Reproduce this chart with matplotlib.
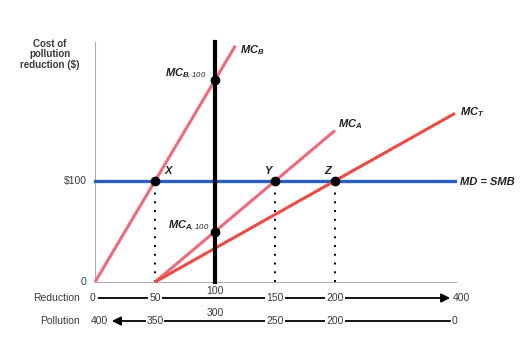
import matplotlib.pyplot as plt

plt.rcParams['font.family'] = ['Liberation Sans', 'DejaVu Sans']
plt.rcParams['mathtext.fontset'] = 'custom'
plt.rcParams['mathtext.it'] = 'Liberation Sans:italic:bold'
plt.rcParams['mathtext.rm'] = 'Liberation Sans:italic'

# Data: marginal cost curves (reduction units, $)
mcb_q = [0, 117]
mcb_cost = [0, 234]
mca_q = [50, 200]
mca_cost = [0, 150]
mct_q = [50, 300]
mct_cost = [0, 167]
md_q = [0, 300]
md_cost = [100, 100]

# equilibrium points
pt_names = ['X', 'Y', 'Z']
pt_q = [50, 150, 200]
pt_cost = [100, 100, 100]
q_fixed = 100
mcb_100 = 200
mca_100 = 50

# bottom scales (positions in reduction units, 400 drawn at the end of the axis)
scale_pos = [0, 50, 100, 150, 200, 300]
reduction_labels = ['0', '50', '100', '150', '200', '400']
pollution_labels = ['400', '350', '300', '250', '200', '0']

pink = '#f2697c'
red = '#ee4a42'
blue = '#2b5fbe'
gray_txt = '#3a3a3a'

fig = plt.figure(figsize=(5.30, 3.51), dpi=100)
ax = fig.add_axes([0, 0, 1, 1])
ax.set_xlim(-79.17, 362.5)
ax.set_ylim(-68.3, 279.2)
ax.axis('off')

top = 237.6
# axes lines
ax.plot([0, 0], [0, top], color='#b0b0b0', lw=0.8)
ax.plot([0, 301], [0, 0], color='#b0b0b0', lw=0.8)
ax.text(-7, 100, '$100', ha='right', va='center', fontsize=7.5, color=gray_txt)
ax.text(-7, 0, '0', ha='right', va='center', fontsize=7.5, color=gray_txt)
ax.text(-37.5, 241, 'Cost of\npollution\nreduction ($)', ha='center', va='top',
        fontsize=7, fontweight='bold', color=gray_txt, linespacing=1.1)

# dotted guides
for q in pt_q:
    ax.plot([q, q], [0, 100], color='black', lw=1.4, ls=(0, (1, 3.5)))

ax.plot(md_q, md_cost, color=blue, lw=2.4, zorder=3)
ax.plot([q_fixed, q_fixed], [0, top], color='black', lw=3, zorder=4)
ax.plot(mcb_q, mcb_cost, color=pink, lw=2.2, zorder=3, solid_capstyle='butt')
ax.plot(mca_q, mca_cost, color=pink, lw=2.2, zorder=3, solid_capstyle='butt')
ax.plot(mct_q, mct_cost, color=red, lw=2.2, zorder=3, solid_capstyle='butt')

ax.plot(pt_q + [q_fixed, q_fixed], pt_cost + [mcb_100, mca_100], 'o',
        color='black', ms=6, zorder=6)

lab = dict(fontsize=8, fontweight='bold', fontstyle='italic', color='#222222')
ax.text(120.8, 230, r'$MC_B$', ha='left', va='center', **lab)
ax.text(93, 206, r'$MC_{B,100}$', ha='right', va='center', **lab)
ax.text(202.5, 156, r'$MC_A$', ha='left', va='center', **lab)
ax.text(304, 168, r'$MC_T$', ha='left', va='center', **lab)
ax.text(95, 56, r'$MC_{A,100}$', ha='right', va='center', **lab)
ax.text(304, 99, 'MD = SMB', ha='left', va='center', **lab)
for name, q in zip(pt_names, [60.8, 144, 194]):
    ax.text(q, 110, name, ha='center', va='center', **lab)

# bottom scales
y_red, y_pol = -15.8, -38.6
ax.text(-12.5, y_red, 'Reduction', ha='right', va='center', fontsize=7.5, color=gray_txt)
ax.text(-12.5, y_pol, 'Pollution', ha='right', va='center', fontsize=7.5, color=gray_txt)

ax.annotate('', xy=(296, y_red), xytext=(3, y_red),
            arrowprops=dict(arrowstyle='-|>', color='black', lw=1.3,
                            mutation_scale=13, shrinkA=0, shrinkB=0))
ax.annotate('', xy=(14, y_pol), xytext=(296, y_pol),
            arrowprops=dict(arrowstyle='-|>', color='black', lw=1.3,
                            mutation_scale=13, shrinkA=0, shrinkB=0))

box = dict(facecolor='white', edgecolor='none', pad=0.6)
txt = dict(va='center', fontsize=7.5, color=gray_txt)
for q, r, p in zip(scale_pos, reduction_labels, pollution_labels):
    if q == 100:
        ax.text(q, -8.9, r, ha='center', **txt)
        ax.text(q, -30.7, p, ha='center', **txt)
    elif q == 0:
        ax.text(-1.7, y_red, r, ha='center', bbox=box, **txt)
        ax.text(3.3, y_pol, p, ha='center', bbox=box, **txt)
    elif q == 300:
        ax.text(298.5, y_red, r, ha='left', **txt)
        ax.text(297, y_pol, p, ha='left', bbox=box, **txt)
    else:
        ax.text(q, y_red, r, ha='center', bbox=box, **txt)
        ax.text(q, y_pol, p, ha='center', bbox=box, **txt)

fig.savefig('out.png', dpi=100)
